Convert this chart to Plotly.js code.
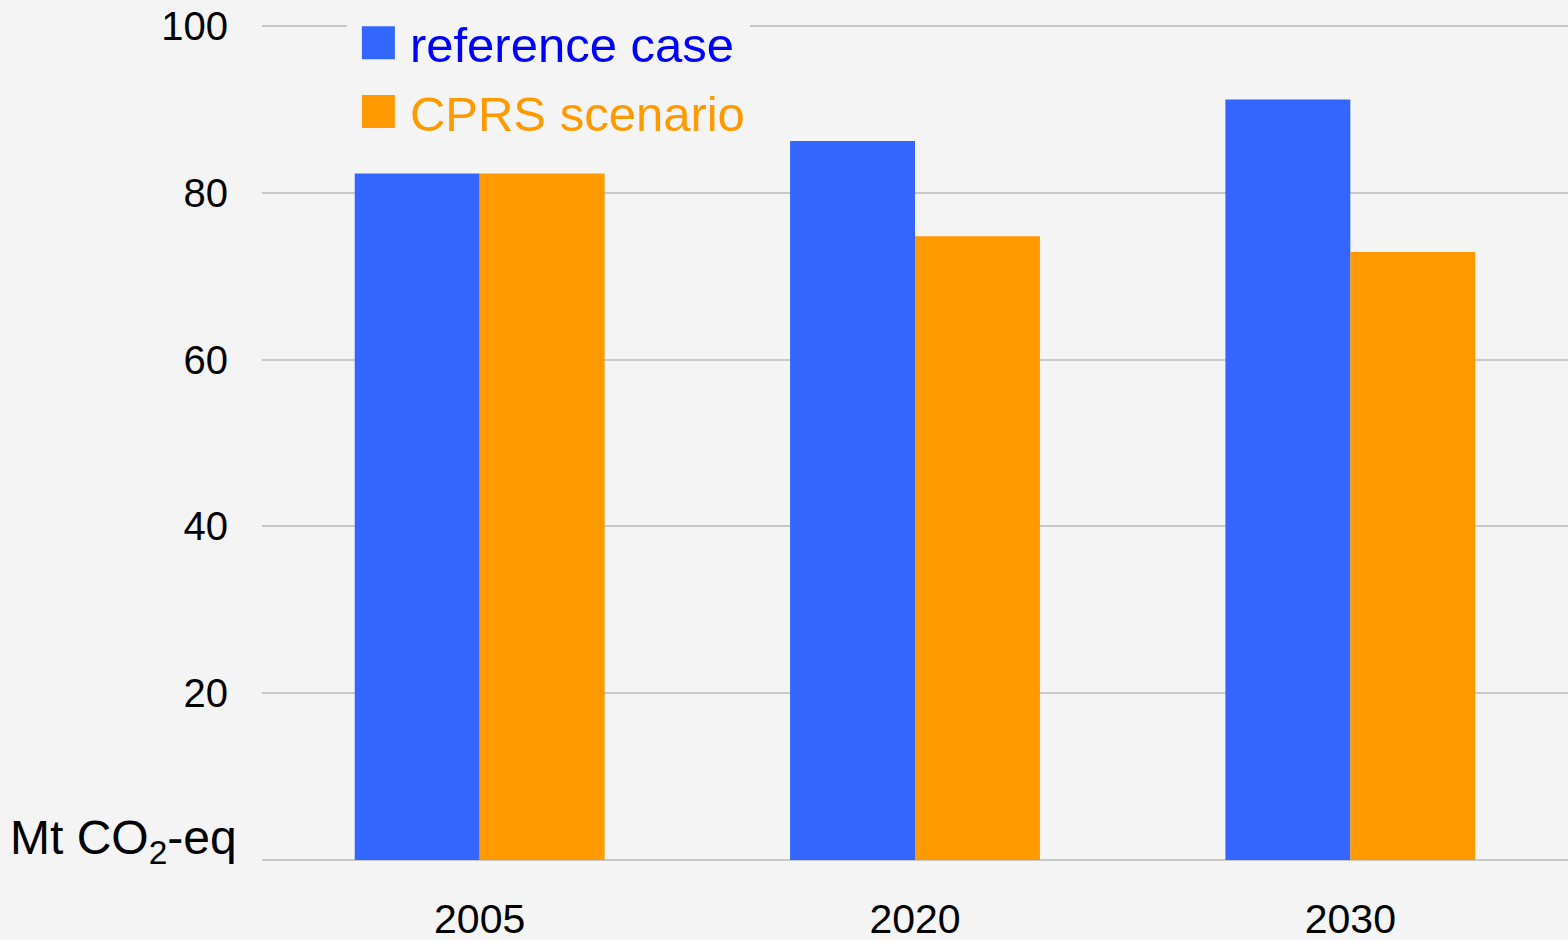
<!DOCTYPE html>
<html>
<head>
<meta charset="utf-8">
<script src="https://cdn.plot.ly/plotly-3.0.1.min.js"></script>
<style>
  html, body { margin: 0; padding: 0; background: #f4f4f4; }
  #chart { width: 1568px; height: 940px; }
</style>
</head>
<body>
<div id="chart"></div>
<script>
const years = ['2005', '2020', '2030'];
const referenceCase = [82.3, 86.2, 91.2];
const cprsScenario = [82.3, 74.8, 72.9];
const yTicks = [20, 40, 60, 80, 100];
const yTickLabels = ['20', '40', '60', '80', '100'];

const FONT = 'Liberation Sans, Arial, sans-serif';

const traces = [
  {
    type: 'bar', x: years, y: referenceCase,
    name: '<span style="color:#0000ff">reference case</span>',
    legendgroup: 'a',
    marker: { color: '#3366ff' },
    hoverinfo: 'x+y'
  },
  {
    type: 'bar', x: years, y: cprsScenario,
    name: '<span style="color:#ff9900">CPRS scenario</span>',
    legendgroup: 'b',
    marker: { color: '#ff9900' },
    hoverinfo: 'x+y'
  }
];

const layout = {
  width: 1568, height: 940,
  paper_bgcolor: '#f4f4f4', plot_bgcolor: '#f4f4f4',
  margin: { l: 262, r: 0, t: 22, b: 80 },
  font: { family: FONT, size: 40, color: '#000000' },
  barmode: 'group', bargap: 0.426, bargroupgap: 0,
  showlegend: true,
  legend: {
    x: 0.065, xanchor: 'left', y: 1.021, yanchor: 'top',
    bgcolor: '#f4f4f4', borderwidth: 0,
    font: { family: FONT, size: 49 },
    itemwidth: 53, traceorder: 'grouped', tracegroupgap: 2
  },
  xaxis: {
    type: 'category', showgrid: false, showline: false, zeroline: false,
    ticks: '', ticklabelstandoff: 31,
    tickfont: { family: FONT, size: 41, color: '#000' }
  },
  yaxis: {
    range: [0, 100.48], tickvals: yTicks, ticktext: yTickLabels,
    showgrid: true, gridcolor: '#c8c8c8', gridwidth: 2,
    zeroline: true, zerolinecolor: '#c8c8c8', zerolinewidth: 2,
    showline: false, ticks: '', ticklabelstandoff: 33,
    tickfont: { family: FONT, size: 40, color: '#000' }
  },
  annotations: [
    {
      xref: 'paper', yref: 'y', x: -0.0175, y: 0,
      xanchor: 'right', yanchor: 'bottom', showarrow: false,
      text: 'Mt CO<sub>2</sub>-eq', yshift: -13,
      font: { family: FONT, size: 48, color: '#000' }
    }
  ]
};

Plotly.newPlot('chart', traces, layout, { staticPlot: true }).then(function (gd) {
  // enlarge legend swatches to match the reference's large squares
  document.querySelectorAll('.legend .legendpoints path').forEach(function (p) {
    p.setAttribute('d', 'M16.5,16.5H-16.5V-16.5H16.5Z');
  });
});
</script>
</body>
</html>
